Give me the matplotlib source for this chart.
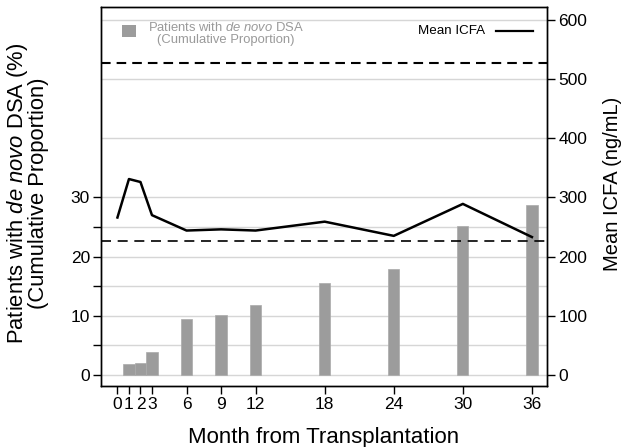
import matplotlib
matplotlib.use("Agg")
import matplotlib.pyplot as plt
from matplotlib.patches import Rectangle
from matplotlib.lines import Line2D

plt.rcParams['font.family'] = ['Liberation Sans', 'DejaVu Sans']
plt.rcParams['mathtext.fontset'] = 'custom'
plt.rcParams['mathtext.rm'] = 'Liberation Sans'
plt.rcParams['mathtext.it'] = 'Liberation Sans:italic'

# Data
bar_months = [1, 2, 3, 6, 9, 12, 18, 24, 30, 36]
dsa_pct = [1.9, 2.1, 3.9, 9.5, 10.2, 11.8, 15.6, 17.9, 25.1, 28.7]
icfa_months = [0, 1, 2, 3, 6, 9, 12, 18, 24, 30, 36]
icfa_mean = [266, 331, 326, 270, 244, 246, 244, 259, 235, 289, 233]
ref_low, ref_high = 226, 527
month_ticks = [0, 1, 2, 3, 6, 9, 12, 18, 24, 30, 36]
left_ticks = [0, 5, 10, 15, 20, 25, 30]
left_labels = ['0', '', '10', '', '20', '', '30']
right_ticks = [0, 100, 200, 300, 400, 500, 600]
grid_levels = [0, 5, 10, 15, 20, 25, 30, 40, 50, 60]

fig = plt.figure(figsize=(6.24, 4.47), dpi=100)
ax = fig.add_axes([0.162, 0.1365, 0.715, 0.847])
ax2 = ax.twinx()

# right axis is the left axis times ten
ax.set_ylim(-1.86, 62.1)
ax2.set_ylim(-18.6, 621)
ax.set_xlim(-1.42, 37.33)

for g in grid_levels:
    ax.axhline(g, color='#d6d6d6', lw=1.0, zorder=0)

ax.bar(bar_months, dsa_pct, width=0.98, color='#9c9c9c', edgecolor='#aaaaaa',
       linewidth=0.5, zorder=2)

ax2.plot(icfa_months, icfa_mean, color='black', lw=1.8, zorder=3)
ax2.axhline(ref_low, color='black', lw=1.2, dashes=(6, 4), zorder=3)
ax2.axhline(ref_high, color='black', lw=1.5, dashes=(4.6, 2.9), zorder=3)

ax.set_xticks(month_ticks)
ax.set_xticklabels([str(m) for m in month_ticks])
ax.set_yticks(left_ticks)
ax.set_yticklabels(left_labels)
ax2.set_yticks(right_ticks)

for a in (ax, ax2):
    a.tick_params(direction='out', length=6, width=1, labelsize=12.5, pad=2)
    for s in a.spines.values():
        s.set_linewidth(1.0)

# Axis titles
fig.text(324 / 624, 4 / 447, 'Month from Transplantation', fontsize=16,
         ha='center', va='baseline')
fig.text(27 / 624, 1 - 193 / 447,
         'Patients with $\\it{de\\ novo}$ DSA (%)\n(Cumulative Proportion)',
         rotation=90, fontsize=15.8, ha='center', va='center',
         multialignment='center', linespacing=0.88)
fig.text(613 / 624, 1 - 183.5 / 447, 'Mean ICFA (ng/mL)', rotation=90,
         fontsize=14.5, ha='center', va='center')

# Legend entries
ax.add_patch(Rectangle((0.047, 0.921), 0.031, 0.032, transform=ax.transAxes,
                       facecolor='#9c9c9c', edgecolor='none', zorder=4))
ax.text(0.280, 0.930, 'Patients with $\\it{de\\ novo}$ DSA\n(Cumulative Proportion)',
        transform=ax.transAxes, ha='center', va='center', multialignment='center',
        fontsize=9.4, color='#9a9a9a', linespacing=1.0, zorder=4)
ax.text(0.711, 0.937, 'Mean ICFA', transform=ax.transAxes, ha='left', va='center',
        fontsize=9.6, color='black', zorder=4)
ax.add_line(Line2D([0.885, 0.968], [0.937, 0.937], transform=ax.transAxes,
                   color='black', lw=1.6, zorder=4))

fig.savefig('out.png', dpi=100)
